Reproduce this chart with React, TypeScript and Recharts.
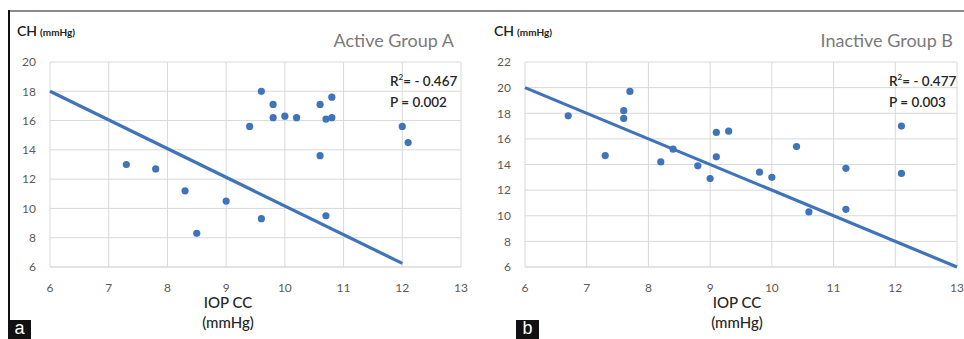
import { ScatterChart, Scatter, XAxis, YAxis, CartesianGrid } from 'recharts';

// Active group A: IOP CC (x) vs CH (y)
const groupA = [
  { x: 7.3, y: 13.0 },
  { x: 7.8, y: 12.7 },
  { x: 8.3, y: 11.2 },
  { x: 8.5, y: 8.3 },
  { x: 9.0, y: 10.5 },
  { x: 9.4, y: 15.6 },
  { x: 9.6, y: 18.0 },
  { x: 9.6, y: 9.3 },
  { x: 9.8, y: 17.1 },
  { x: 9.8, y: 16.2 },
  { x: 10.0, y: 16.3 },
  { x: 10.2, y: 16.2 },
  { x: 10.6, y: 17.1 },
  { x: 10.6, y: 13.6 },
  { x: 10.7, y: 16.1 },
  { x: 10.7, y: 9.5 },
  { x: 10.8, y: 17.6 },
  { x: 10.8, y: 16.2 },
  { x: 12.0, y: 15.6 },
  { x: 12.1, y: 14.5 },
];

// Inactive group B
const groupB = [
  { x: 6.7, y: 17.8 },
  { x: 7.3, y: 14.7 },
  { x: 7.6, y: 18.2 },
  { x: 7.6, y: 17.6 },
  { x: 7.7, y: 19.7 },
  { x: 8.2, y: 14.2 },
  { x: 8.4, y: 15.2 },
  { x: 8.8, y: 13.9 },
  { x: 9.0, y: 12.9 },
  { x: 9.1, y: 16.5 },
  { x: 9.1, y: 14.6 },
  { x: 9.3, y: 16.6 },
  { x: 9.8, y: 13.4 },
  { x: 10.0, y: 13.0 },
  { x: 10.4, y: 15.4 },
  { x: 10.6, y: 10.3 },
  { x: 11.2, y: 13.7 },
  { x: 11.2, y: 10.5 },
  { x: 12.1, y: 17.0 },
  { x: 12.1, y: 13.3 },
];

const trendA = [
  { x: 6, y: 18.0 },
  { x: 12, y: 6.25 },
];
const trendB = [
  { x: 6, y: 20.0 },
  { x: 13, y: 6.0 },
];

const xTicks = [6, 7, 8, 9, 10, 11, 12, 13];
const yTicksA = [6, 8, 10, 12, 14, 16, 18, 20];
const yTicksB = [6, 8, 10, 12, 14, 16, 18, 20, 22];

const FONT = 'Lato, "Open Sans", sans-serif';
const BLUE = '#3f74ba';
const GRID = '#d9d9d9';
const TICK = { fill: '#5f5a55', fontSize: 12, fontFamily: FONT };

const emptyShape = () => <g />;

interface PanelProps {
  left: number;
  points: { x: number; y: number }[];
  trend: { x: number; y: number }[];
  yTicks: number[];
  yMax: number;
  marginLeft: number;
  marginRight: number;
  title: string;
  r2: string;
  p: string;
  letter: string;
  xLabelLeft: number;
  letterLeft: number;
}

function Panel(props: PanelProps) {
  const { left, points, trend, yTicks, yMax, marginLeft, marginRight, title, r2, p, letter, xLabelLeft, letterLeft } = props;
  return (
    <div style={{ position: 'absolute', left, top: 0, width: 482, height: 339, fontFamily: FONT }}>
      <ScatterChart
        width={482}
        height={339}
        margin={{ top: 62, right: marginRight, bottom: 42, left: marginLeft }}
      >
        <CartesianGrid stroke={GRID} strokeWidth={1} />
        <XAxis
          type="number"
          dataKey="x"
          domain={[6, 13]}
          ticks={xTicks}
          tick={TICK}
          axisLine={{ stroke: GRID }}
          tickLine={false}
          tickMargin={10}
          height={30}
        />
        <YAxis
          type="number"
          dataKey="y"
          domain={[6, yMax]}
          ticks={yTicks}
          tick={TICK}
          axisLine={false}
          tickLine={false}
          tickMargin={8}
          width={30}
        />
        <Scatter
          data={trend}
          line={{ stroke: BLUE, strokeWidth: 3.2 }}
          shape={emptyShape}
          isAnimationActive={false}
        />
        <Scatter data={points} fill={BLUE} isAnimationActive={false} shape={(s: any) => <circle cx={s.cx} cy={s.cy} r={3.6} fill={BLUE} />} />
      </ScatterChart>
      <div style={{ position: 'absolute', left: left === 0 ? 17 : 12, top: 20, color: '#222', fontWeight: 700, whiteSpace: 'nowrap' }}>
        <span style={{ fontSize: 14, fontWeight: 600 }}>CH</span>
        <span style={{ fontSize: 10, marginLeft: 3 }}>(mmHg)</span>
      </div>
      <div style={{ position: 'absolute', right: left === 0 ? 28 : 11, top: 29, fontSize: 18, color: '#7a7a7a', whiteSpace: 'nowrap' }}>
        {title}
      </div>
      <div style={{ position: 'absolute', right: left === 0 ? 28 : 11, top: 71, fontSize: 13.5, color: '#262626', fontWeight: 600, lineHeight: '21px', width: 64, whiteSpace: 'nowrap' }}>
        <div>R<sup style={{ fontSize: 8, verticalAlign: 'top', lineHeight: '12px' }}>2</sup>= - {r2}</div>
        <div>P = {p}</div>
      </div>
      <div style={{ position: 'absolute', left: xLabelLeft, top: 292, fontSize: 15, color: '#262626', textAlign: 'center', lineHeight: '20px', width: 80, fontWeight: 500 }}>
        <div>IOP CC</div>
        <div>(mmHg)</div>
      </div>
      <div style={{ position: 'absolute', left: letterLeft, top: 320, width: 23, height: 19, background: '#111', color: '#fff', fontFamily: '"Liberation Sans", Arial, sans-serif', fontSize: 18, lineHeight: '17px', textAlign: 'center' }}>
        {letter}
      </div>
    </div>
  );
}

export default function App() {
  return (
    <div style={{ position: 'absolute', left: 0, top: 0, width: 964, height: 339, background: '#fff', overflow: 'hidden' }}>
      <Panel
        left={0}
        points={groupA}
        trend={trendA}
        yTicks={yTicksA}
        yMax={20}
        marginLeft={20}
        marginRight={21}
        title="Active Group A"
        r2="0.467"
        p="0.002"
        letter="a"
        xLabelLeft={188}
        letterLeft={8}
      />
      <Panel
        left={482}
        points={groupB}
        trend={trendB}
        yTicks={yTicksB}
        yMax={22}
        marginLeft={13}
        marginRight={7}
        title="Inactive Group B"
        r2="0.477"
        p="0.003"
        letter="b"
        xLabelLeft={215}
        letterLeft={34}
      />
      <div style={{ position: 'absolute', left: 8, top: 10, width: 956, height: 2, background: '#8a8a8a' }} />
      <div style={{ position: 'absolute', left: 8, top: 10, width: 2, height: 329, background: '#111' }} />
    </div>
  );
}
